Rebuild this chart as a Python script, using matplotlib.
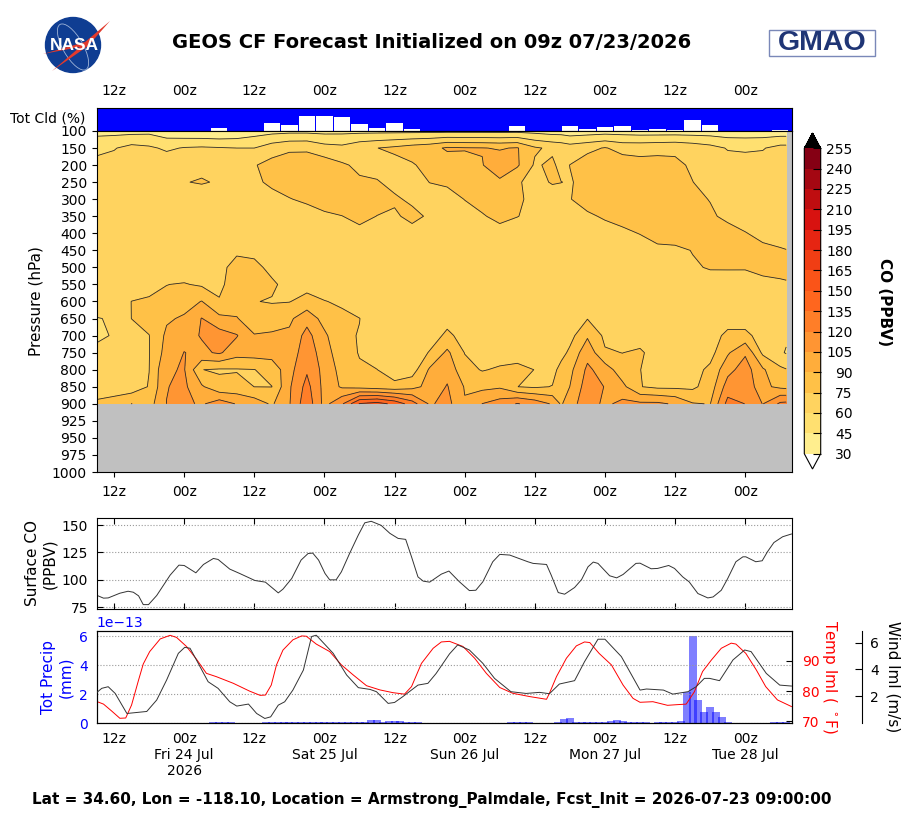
import numpy as np
import matplotlib
matplotlib.use('Agg')
import matplotlib.pyplot as plt
from matplotlib.colors import ListedColormap, BoundaryNorm
from matplotlib.patches import Circle, Ellipse, Polygon, Rectangle

# hours after the 09z 07/23 initialization
co_hours = [0, 3, 6, 9, 12, 15, 18, 21, 24, 27, 30, 33, 36, 39, 42, 45, 48, 51, 54, 57, 60,
            63, 66, 69, 72, 75, 78, 79.5, 81, 84, 87, 90, 93, 96, 99, 102, 105, 108, 111, 114, 117, 118]
pressure_labels = ['100', '150', '200', '250', '300', '350', '400', '450', '500', '550', '600',
                   '650', '700', '750', '800', '850', '900', '925', '950', '975', '1000']

# CO (PPBV) on each pressure level
co_100 = [41, 40, 40, 41, 36, 33, 32, 31, 33, 38, 40, 41, 41, 40.5, 41, 41, 41, 41, 41, 41, 41,
          41, 41, 41, 41, 40, 38, 38, 36, 37, 38, 38, 37, 37, 37, 37, 37, 36, 36, 36, 36, 36]
co_150 = [54, 59, 65, 62.5, 57.5, 61, 62, 61, 60, 60, 68, 73, 73.5, 66, 64, 71, 74.8, 78, 82, 85, 92,
          91, 90.5, 89, 91, 77, 72, 70, 67, 71, 76, 70, 70, 71, 72, 69, 65, 59, 58, 59, 65, 65]
co_200 = [67, 66, 68, 67, 70, 68, 71.8, 68, 68, 74, 80, 81, 80, 83, 77, 72, 70, 70, 73.5, 80, 82,
          85, 89.5, 97, 92, 73, 78, 70, 75.2, 83, 84, 83, 80, 80, 78, 73, 70, 66, 66, 66, 66, 66]
co_250 = [66, 66, 66, 66, 66, 74.5, 76, 73.8, 68, 72, 78, 80, 81, 82, 80, 77, 76, 71, 70, 75.2, 77,
          80, 82, 88, 76, 72, 75.8, 75.2, 74, 79, 84, 83, 82, 81, 80, 75.2, 70, 66, 66, 66, 66, 66]
co_300 = [66, 66, 66, 66, 66, 68, 67.7, 67, 67, 67, 70, 74.5, 77, 80, 81, 80, 79, 77, 72.5, 70, 70,
          75.3, 79, 80, 78, 70, 70, 70, 74.5, 80, 84, 83, 82, 82, 81, 78, 74.5, 68, 67, 67, 67, 67]
co_350 = [67, 67, 67, 67, 67, 67, 67, 67, 67, 67, 66, 66, 70, 73, 74.8, 78, 74.8, 73, 78.7, 73, 70,
          70, 74, 78, 75.3, 72, 68, 67, 68, 73, 76.5, 80, 82, 83, 82, 80, 77, 72, 70, 68, 68, 68]
co_400 = [67, 67, 67, 67, 67, 67, 67, 67, 67, 67, 67, 67, 67, 67, 69, 72, 70, 68, 70, 68, 67,
          67, 68, 71, 69, 68, 67, 67, 67, 68, 70, 72, 75.5, 80, 82, 83, 82, 80, 75.5, 72, 70, 70]
co_450 = [67, 67, 67, 67, 67, 67, 67, 69, 72.5, 71, 68, 66, 66, 66, 66, 66, 66, 66, 66, 66, 66,
          66, 66, 66, 66, 66, 66, 66, 66, 66, 66, 67, 68, 72, 72, 75.5, 80, 82, 80, 77.5, 76, 75.3]
co_500 = [66, 66, 66, 66, 66, 66, 68, 71, 80, 79, 71, 66, 66, 66, 66, 66, 66, 66, 66, 66, 66,
          66, 66, 66, 66, 66, 66, 66, 66, 66, 66, 66, 66, 67, 70, 73.5, 76, 75.7, 75.6, 78, 79, 79.5]
co_550 = [66, 66, 66, 70, 74.8, 76, 73, 72, 82, 83, 77.5, 70, 70, 68, 66, 66, 66, 66, 66, 66, 66,
          66, 66, 66, 66, 66, 66, 66, 66, 66, 66, 66, 66, 66, 66, 66, 69, 71, 71.5, 72, 73, 73.5]
co_600 = [66, 67, 75.2, 77, 78, 84, 90.5, 76, 86, 75.5, 74, 74.5, 80, 75.5, 73, 68, 66, 66, 66, 66, 66,
          66, 66, 66, 66, 66, 66, 66, 66, 66, 66, 66, 66, 66, 66, 66, 66, 66, 66, 66, 66, 66]
co_650 = [59.5, 61, 75.2, 80, 88, 92, 105.5, 94, 90.5, 85, 83, 87, 100, 84, 78, 75.2, 68, 66, 66, 66, 70,
          66, 66, 66, 66, 66, 66, 66, 66, 74.5, 68, 66, 66, 66, 66, 66, 66, 66, 66, 66, 66, 66]
co_700 = [57, 61.2, 66, 74.7, 93, 100, 106, 112, 106, 90.5, 92, 93, 110, 93, 77, 74.5, 68, 66, 66, 68, 78,
          70, 66, 66, 66, 66, 66, 66, 70, 88, 72, 68, 66, 66, 66, 66, 66, 80, 80, 67, 66, 62]
co_750 = [64, 66, 66, 74.5, 96, 105.3, 102, 107, 96, 97, 97, 97, 113, 98, 79, 74.5, 68, 66, 66, 76, 93,
          74.5, 66, 68, 70, 68, 66, 70, 78, 100, 76.5, 74.8, 78, 66, 66, 66, 70, 88, 103, 72, 62, 59]
co_800 = [66, 66, 66, 74.8, 103.5, 106, 75.2, 73.5, 74, 74.7, 80, 100, 118, 100, 84.6, 76, 75.2, 66, 68, 92, 100,
          80, 74, 77, 78, 74.8, 70, 80, 86, 108, 98, 81, 75.2, 70, 66, 70, 78, 100, 112, 92, 78, 75.8]
co_850 = [66, 66, 66, 76, 104.5, 108, 92, 79, 80, 74.9, 74.8, 103, 125, 100, 88, 85, 82, 80, 85, 95, 106,
          89, 86, 88, 75.1, 73, 75.5, 80, 90.2, 112.6, 104.4, 94, 75.5, 72, 72, 72, 82, 112, 118, 93, 87, 86]
co_900 = [78, 82, 90.2, 84, 105.2, 108, 103, 113, 104, 98, 88, 104, 130, 100, 118, 151, 156, 146, 127, 103, 110,
          91, 105.2, 112, 121, 114, 103.3, 88, 100, 112, 102, 109, 108, 108, 103, 91, 89.5, 125, 119.8, 104.5, 123, 124]

co_levels = [30, 45, 60, 75, 90, 105, 120, 135, 150, 165, 180, 195, 210, 225, 240, 255]
co_colors = ['#FFEE8E', '#FFE070', '#FFD35F', '#FFC147', '#FFAD3B', '#FF9533', '#FF7E28', '#FF661E',
             '#FA5418', '#F03E14', '#E62512', '#D81210', '#BF0D10', '#A40712', '#850014']

# total cloud, 3 hourly
cld_hours = [21, 30, 33, 36, 39, 42, 45, 48, 51, 54, 72, 81, 84, 87, 90, 93, 96, 99, 102, 105, 117]
cld_pct = [13, 36, 26, 65, 65, 61, 30, 13, 36, 9, 22, 22, 9, 17, 22, 4, 9, 4, 48, 26, 4]

sfc_hours = [0, 1.2, 2, 4, 5.4, 6.3, 7.2, 8, 8.9, 10.3, 12.6, 14.1, 15, 17, 18.3, 20, 20.8, 22.8, 24.5, 27.1,
             28.9, 31.1, 31.9, 33.4, 35, 36.2, 37, 38, 39.1, 39.9, 41, 41.9, 43.3, 44.8, 45.9, 47, 48.7, 50.2,
             51.6, 52.9, 53.9, 55, 55.9, 57, 59, 60.3, 62.1, 63.8, 64.9, 66.1, 67.8, 69, 70.7, 73.8, 74.7, 77,
             77.8, 79, 80.1, 81.8, 83, 84.1, 85, 85.8, 87.8, 89, 90.1, 92.3, 93, 94.9, 96, 97.9, 98.9, 100.3,
             101.4, 102.9, 104.6, 105.5, 106.9, 108, 109.4, 110.6, 111.1, 112.8, 113.9, 114.8, 115.9, 117.4, 118.9]
sfc_co = [86, 83.3, 83.5, 87.8, 89.6, 88.7, 85.4, 77.4, 77.4, 85.7, 104.3, 113.4, 113.1, 106.4, 114, 119.5, 118.6, 109.8, 105.8, 99.4,
          97.9, 88.1, 91.5, 101.2, 118, 124, 124.4, 118, 105.8, 100, 100, 107.3, 124, 140.9, 152, 153.4, 149.7, 142.4,
          137.8, 136.9, 121, 102.7, 98.8, 97.9, 105.2, 108, 98.2, 90.2, 90.5, 98.2, 116.5, 123.2, 122.6, 116.5, 115, 114,
          104.3, 88.4, 86.9, 93, 100.3, 111.9, 116.2, 115, 103.7, 101.8, 104.9, 115, 115.2, 110.1, 110.4, 113.1, 110.4, 102.7,
          98.2, 87.5, 83.5, 84.4, 90.5, 101.2, 116.5, 121, 121, 116.5, 117.4, 125.6, 134, 139.3, 141.8]

temp_hours = [0, 1.2, 2.6, 4, 5, 6, 7.2, 8, 9.1, 10.9, 12.6, 13.7, 15.4, 17.1, 18.8, 20.5, 23.4, 26.2, 28, 28.9,
              29.9, 30.8, 31.9, 33.6, 35.1, 35.9, 37.6, 39.9, 41.9, 43.9, 46.2, 48.5, 50.7, 52.7, 53.9, 55.6,
              57.6, 59, 60.4, 62.7, 64.7, 66.7, 69, 71.2, 74.1, 77, 77.5, 78.7, 80.4, 82.1, 83.5, 84.4, 86,
              88.1, 90.1, 91.8, 93, 95.2, 97.7, 99.2, 100.9, 102.3, 103.7, 105.2, 106.9, 108.6, 109.4, 111.1,
              112.9, 114.5, 116.5, 118.9]
temp_f = [76.6, 75.7, 73.4, 71, 71.1, 75.4, 83.7, 89, 93.1, 97.3, 98.5, 97.8, 94.8, 90.6, 85.9, 84.8, 82.6, 80, 78.6, 78.7,
          82, 88.7, 93.6, 97, 98.3, 98.2, 95.6, 93.1, 88.7, 85.4, 81.8, 80.4, 79.5, 79, 81.5, 89.2,
          94.2, 96.3, 96.5, 94.8, 90.9, 85.9, 81.2, 79.3, 78.2, 77.3, 79.3, 84.8, 90.9, 95, 96.3, 96.1, 92.5,
          88.7, 82, 77.6, 76.3, 76.5, 75.3, 75.5, 75.7, 79.8, 86.5, 90.3, 94.2, 95.9, 95.6, 92.5,
          87, 81.5, 77.1, 74.9]

wind_hours = [0, 0.9, 2, 3.2, 5.2, 8.6, 10.3, 12, 14, 15.1, 16, 17.1, 19.1, 20.8, 22.8, 24, 26, 27.4, 28.8, 29.8,
              31.1, 32.2, 33.6, 35.4, 36.8, 37.6, 40.5, 42.8, 44.8, 46.8, 47.9, 49.9, 51, 52.4, 55, 56.7, 58.1,
              60.4, 61.8, 63.8, 66.1, 68.1, 70.9, 73.5, 75.8, 77.5, 79.2, 81.8, 83.5, 85.8, 87, 89.8, 93, 94.1,
              97, 98.6, 101.2, 102.6, 104, 104.9, 106.6, 108.9, 110.9, 112, 114.6, 116.9, 118.9]
wind_ms = [2.27, 2.6, 2.72, 2.22, 0.73, 0.88, 1.73, 3.22, 5.2, 5.65, 5.58, 4.71, 3.09, 2.6, 1.6, 1.28, 1.43, 0.73, 0.36, 0.48,
           1.35, 1.6, 2.47, 3.96, 6.45, 6.55, 5.2, 3.59, 2.65, 2.52, 2.35, 1.48, 1.55, 1.98, 2.84, 2.97, 3.7,
           5.16, 5.83, 5.45, 4.46, 3.34, 2.35, 2.22, 2.3, 2.2, 2.92, 3.17, 4.58, 6.25, 6.25, 4.96, 2.47, 2.55,
           2.47, 2.17, 2.35, 2.72, 3.34, 3.34, 3.17, 4.71, 5.45, 5.33, 3.71, 2.84, 2.77]

# hourly precip, in units of 1e-13 mm
precip_hours = list(range(119))
precip_e13 = [0] * 20 + [.07] * 4 + [0] * 5 + [.07] * 18 + [.2, .2, .07, .15, .15, .15, .07, .07, .07] + [0] * 15 + \
             [.07] * 4 + [0] * 4 + [.09, .3, .37, .07, .07, .07, .07, .07, .09, .15, .23, .15, .07, .07, .07, .07, 0,
                                    .07, .07, .07, .07, .15, 2.14, 6.02, 1.6, .78, 1.13, .78, .44, .09] + \
             [0] * 7 + [.07] * 3

tick_hours = [3, 15, 27, 39, 51, 63, 75, 87, 99, 111]
hour_labels = ['12z', '00z'] * 5
date_labels = ['12z', '00z\nFri 24 Jul\n2026', '12z', '00z\nSat 25 Jul', '12z', '00z\nSun 26 Jul',
               '12z', '00z\nMon 27 Jul', '12z', '00z\nTue 28 Jul']

W, H = 910, 819
LEFT, RIGHT = 96.5, 792
HOUR_MAX = 119


def panel(top, bottom, left=LEFT, right=RIGHT):
    # axes rectangle from pixel edges, y measured down from the top of the figure
    return [left / W, 1 - bottom / H, (right - left) / W, (bottom - top) / H]


fig = plt.figure(figsize=(9.1, 8.19), dpi=100)

# --- cloud strip ---
ax_cld = fig.add_axes(panel(108, 131))
ax_cld.set_facecolor('#0000FF')
ax_cld.bar(cld_hours, cld_pct, width=2.8, color='white')
ax_cld.set_xlim(0, HOUR_MAX)
ax_cld.set_ylim(0, 100)
ax_cld.set_yticks([])
ax_cld.xaxis.tick_top()
ax_cld.set_xticks(tick_hours, hour_labels)
ax_cld.tick_params(axis='x', length=0, pad=7, labelsize=10)
fig.text(85 / W, 1 - 119 / H, 'Tot Cld (%)', ha='right', va='center', fontsize=10)

# --- CO curtain ---
ax_co = fig.add_axes(panel(131, 472))
ax_co.set_facecolor('#C0C0C0')
co_rows = [co_100, co_150, co_200, co_250, co_300, co_350, co_400, co_450, co_500,
           co_550, co_600, co_650, co_700, co_750, co_800, co_850, co_900]
co_grid = np.array(co_rows + [[np.nan] * len(co_hours)] * 4)
level_idx = np.arange(len(pressure_labels))
cmap = ListedColormap(co_colors)
cmap.set_over('black')
cmap.set_under('white')
norm = BoundaryNorm(co_levels, cmap.N)
cf = ax_co.contourf(co_hours, level_idx, co_grid, levels=co_levels, cmap=cmap, norm=norm, extend='both')
ax_co.contour(co_hours, level_idx, co_grid, levels=co_levels, colors='#2b2b2b', linewidths=0.6)
ax_co.set_xlim(0, HOUR_MAX)
ax_co.set_ylim(20, 0)
ax_co.set_yticks(level_idx, pressure_labels)
ax_co.set_xticks(tick_hours, hour_labels)
ax_co.tick_params(axis='both', labelsize=10)
ax_co.tick_params(axis='x', pad=6)
ax_co.set_ylabel('Pressure (hPa)', fontsize=11, labelpad=6)

cax = fig.add_axes(panel(133, 469, 804.3, 820.7))
cb = fig.colorbar(cf, cax=cax, extend='both', extendfrac=0.05)
cb.set_ticks(co_levels)
cax.tick_params(direction='in', length=6, pad=23, labelsize=10)
for lab in cax.get_yticklabels():
    lab.set_ha('right')
fig.text(884 / W, 1 - 302 / H, 'CO (PPBV)', rotation=270, ha='center', va='center',
         fontsize=11, fontweight='bold')

# --- surface CO ---
ax_sfc = fig.add_axes(panel(518, 609))
ax_sfc.plot(sfc_hours, sfc_co, color='#333333', lw=0.7)
ax_sfc.set_xlim(0, HOUR_MAX)
ax_sfc.set_ylim(73.4, 156.4)
ax_sfc.set_yticks([75, 100, 125, 150])
ax_sfc.set_xticks(tick_hours, [])
ax_sfc.tick_params(axis='x', direction='in', top=True, length=4)
ax_sfc.tick_params(axis='y', direction='in', length=4, pad=6, labelsize=10)
ax_sfc.grid(True, axis='y', linestyle=':', color='#999999')
ax_sfc.set_ylabel('Surface CO\n(PPBV)', fontsize=11, labelpad=3)

# --- precip, temperature, wind ---
ax_pr = fig.add_axes(panel(631.3, 723.3))
ax_pr.bar(precip_hours, np.array(precip_e13) * 1e-13, width=1.37, color='blue', alpha=0.5)
ax_pr.set_xlim(0, HOUR_MAX)
ax_pr.set_ylim(0, 6.34e-13)
ax_pr.set_yticks([0, 2e-13, 4e-13, 6e-13])
ax_pr.set_xticks(tick_hours, date_labels)
ax_pr.tick_params(axis='x', length=0, pad=6, labelsize=10)
ax_pr.tick_params(axis='y', length=0, pad=6, labelsize=10, labelcolor='blue')
ax_pr.yaxis.get_offset_text().set_color('blue')
ax_pr.grid(True, axis='y', linestyle=':', color='#999999')
ax_pr.set_ylabel('Tot Precip\n(mm)', fontsize=11, color='blue', labelpad=4)

ax_t = ax_pr.twinx()
ax_t.plot(temp_hours, temp_f, color='red', lw=0.7)
ax_t.set_ylim(69.34, 99.83)
ax_t.set_yticks([70, 80, 90])
ax_t.tick_params(axis='y', direction='in', length=4, pad=7, labelsize=10, labelcolor='red')
fig.text(830 / W, 1 - 677 / H, 'Temp lml ( $^\\circ$F)', rotation=270, ha='center', va='center',
         fontsize=11, color='red')

ax_w = ax_pr.twinx()
ax_w.spines['right'].set_position(('axes', (862 - LEFT) / (RIGHT - LEFT)))
ax_w.spines['top'].set_visible(False)
ax_w.spines['left'].set_visible(False)
ax_w.spines['bottom'].set_visible(False)
ax_w.plot(wind_hours, wind_ms, color='#333333', lw=0.7)
ax_w.set_ylim(0, 6.84)
ax_w.set_yticks([2, 4, 6])
ax_w.tick_params(axis='y', direction='in', length=5, pad=6, labelsize=10)
fig.text(893 / W, 1 - 677 / H, 'Wind lml (m/s)', rotation=270, ha='center', va='center', fontsize=11)

# --- title, footer, logos ---
fig.text(432 / W, 1 - 42 / H, 'GEOS CF Forecast Initialized on 09z 07/23/2026', ha='center', va='center',
         fontsize=14, fontweight='bold')
fig.text(432 / W, 1 - 800 / H, 'Lat = 34.60, Lon = -118.10, Location = Armstrong_Palmdale, Fcst_Init = 2026-07-23 09:00:00',
         ha='center', va='center', fontsize=11, fontweight='bold')

ax_logo = fig.add_axes([0, 0, 1, 1], zorder=-1)
ax_logo.set_xlim(0, W)
ax_logo.set_ylim(H, 0)
ax_logo.axis('off')
ax_logo.add_patch(Circle((73, 45), 27.5, color='#0F3D92'))
ax_logo.add_patch(Ellipse((73, 47), 52, 20, angle=60, fill=False, ec='#9FB4D8', lw=0.6))
ax_logo.add_patch(Polygon([(110, 21), (85, 42), (43, 54), (80, 47), (52, 71), (88, 46)], color='#E23A2C', lw=0))
ax_logo.text(74, 46, 'NASA', color='white', fontsize=12.5, fontweight='bold', ha='center', va='center',
             family='Liberation Sans')
ax_logo.add_patch(Rectangle((769, 30), 106, 26, fill=False, ec='#7A88B8', lw=1))
ax_logo.text(822, 43.5, 'GMAO', color='#1F3575', fontsize=20.5, fontweight='bold', ha='center', va='center',
             family='Liberation Sans')

fig.savefig('out.png', dpi=100)
